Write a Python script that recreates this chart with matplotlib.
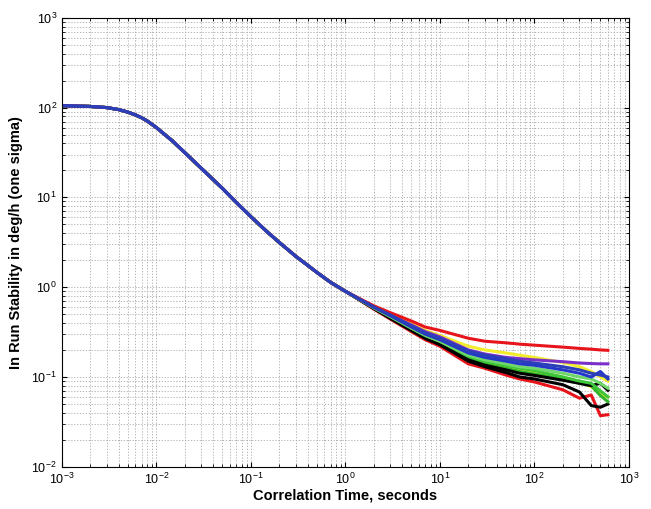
import matplotlib
matplotlib.use("Agg")
import matplotlib.pyplot as plt

plt.rcParams['font.family'] = ['Liberation Sans', 'DejaVu Sans']
plt.rcParams['mathtext.fontset'] = 'custom'
plt.rcParams['mathtext.rm'] = 'Liberation Sans'

# Common part of all curves (correlation time in seconds, deg/h)
tau_common = [0.001, 0.002, 0.003, 0.004, 0.005, 0.006, 0.007, 0.008, 0.01, 0.015,
              0.02, 0.03, 0.05, 0.07, 0.1, 0.15, 0.2, 0.3, 0.4, 0.5, 0.7]
sigma_common = [105, 103, 100, 95, 89, 83, 77, 71, 60, 42,
                31.5, 21, 12.6, 8.8, 6.1, 4.1, 3.15, 2.2, 1.75, 1.46, 1.13]

# Divergent tails
tau_tail = [1, 2, 3, 5, 7, 10, 20, 30, 50, 70, 100, 200, 300, 400, 500, 600]

red_low   = [0.90, 0.57, 0.44, 0.32, 0.26, 0.22, 0.140, 0.125, 0.105, 0.095, 0.088, 0.072, 0.058, 0.063, 0.037, 0.038]
black_b   = [0.90, 0.58, 0.45, 0.33, 0.27, 0.23, 0.150, 0.130, 0.112, 0.100, 0.095, 0.082, 0.068, 0.048, 0.046, 0.050]
yellow_b  = [0.90, 0.59, 0.46, 0.34, 0.28, 0.24, 0.165, 0.145, 0.130, 0.120, 0.113, 0.100, 0.088, 0.078, 0.065, 0.060]
green_b   = [0.90, 0.59, 0.46, 0.34, 0.28, 0.24, 0.160, 0.140, 0.125, 0.115, 0.108, 0.095, 0.085, 0.080, 0.062, 0.053]
black_a   = [0.90, 0.58, 0.45, 0.33, 0.27, 0.23, 0.155, 0.135, 0.120, 0.110, 0.104, 0.092, 0.085, 0.080, 0.085, 0.071]
green_a   = [0.90, 0.59, 0.47, 0.35, 0.29, 0.25, 0.170, 0.150, 0.135, 0.125, 0.118, 0.100, 0.090, 0.085, 0.070, 0.060]
green_c   = [0.90, 0.59, 0.47, 0.35, 0.29, 0.25, 0.175, 0.155, 0.140, 0.130, 0.125, 0.110, 0.100, 0.095, 0.085, 0.075]
yellow_a  = [0.90, 0.61, 0.50, 0.39, 0.33, 0.29, 0.220, 0.200, 0.185, 0.175, 0.165, 0.145, 0.130, 0.115, 0.100, 0.090]
purple    = [0.90, 0.60, 0.49, 0.38, 0.32, 0.28, 0.200, 0.180, 0.165, 0.160, 0.155, 0.148, 0.143, 0.141, 0.140, 0.140]
red_top   = [0.90, 0.62, 0.52, 0.42, 0.36, 0.33, 0.270, 0.250, 0.240, 0.232, 0.226, 0.215, 0.208, 0.204, 0.200, 0.198]
blue_b    = [0.90, 0.60, 0.48, 0.36, 0.30, 0.26, 0.185, 0.165, 0.150, 0.140, 0.135, 0.120, 0.110, 0.100, 0.115, 0.095]
blue_a    = [0.90, 0.60, 0.49, 0.37, 0.31, 0.27, 0.195, 0.175, 0.160, 0.150, 0.143, 0.130, 0.120, 0.110, 0.105, 0.100]

series = [
    (red_low, '#e8141b'),
    (black_b, '#000000'),
    (yellow_b, '#f2ea1d'),
    (green_b, '#2fb52a'),
    (black_a, '#000000'),
    (green_a, '#3dc43a'),
    (green_c, '#6fd86a'),
    (yellow_a, '#f3ec2a'),
    (purple, '#7b2fc9'),
    (red_top, '#e8141b'),
    (blue_b, '#2437c8'),
    (blue_a, '#2a3fb8'),
]

fig = plt.figure(figsize=(6.51, 5.09), dpi=100)
ax = fig.add_axes([0.095, 0.083, 0.871, 0.882])

for vals, col in series:
    x = tau_common + tau_tail
    y = sigma_common + vals
    ax.plot(x, y, color=col, lw=2.2, solid_joinstyle='round')

ax.set_xscale('log')
ax.set_yscale('log')
ax.set_xlim(1e-3, 1e3)
ax.set_ylim(1e-2, 1e3)
ax.grid(True, which='both', linestyle=(0, (1.5, 2)), color='#a8a8a8', linewidth=0.6)
ax.tick_params(which='both', direction='in', top=True, right=True, labelsize=9)
for s in ax.spines.values():
    s.set_linewidth(0.8)
ax.set_xlabel('Correlation Time, seconds', fontsize=10.5, fontweight='bold', labelpad=1)
ax.set_ylabel('In Run Stability in deg/h (one sigma)', fontsize=10.5, fontweight='bold', labelpad=6)

fig.savefig('out.png', dpi=100)
